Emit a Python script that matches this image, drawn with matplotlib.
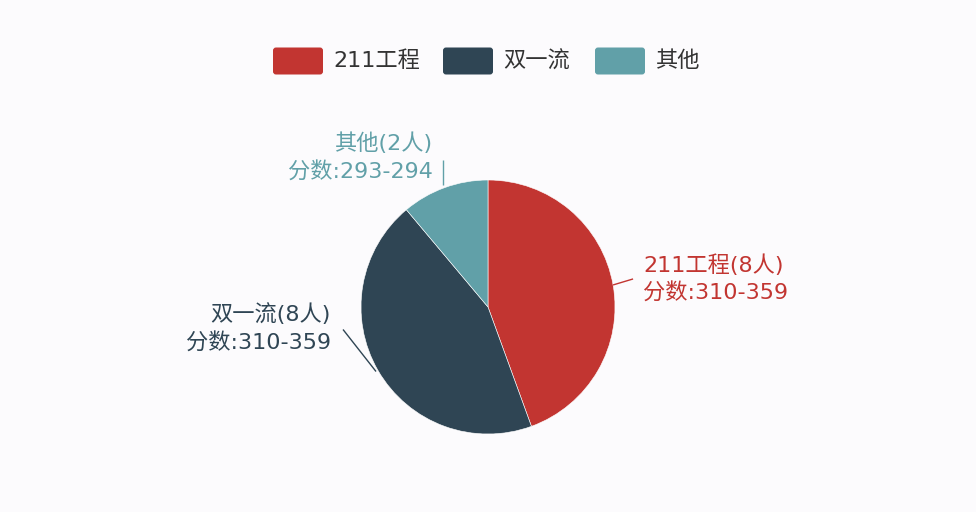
import numpy as np
import matplotlib
matplotlib.use("Agg")
import matplotlib.pyplot as plt
from matplotlib.patches import FancyBboxPatch

plt.rcParams['font.family'] = ['DejaVu Sans', 'Noto Sans CJK SC']

# ---- data ----
categories = ["211工程", "双一流", "其他"]
counts = [8, 8, 2]
score_ranges = ["310-359", "310-359", "293-294"]
colors = ["#c23531", "#2f4554", "#61a0a8"]

W, H = 976, 512
BG = "#fcfbfd"
fig = plt.figure(figsize=(W / 100, H / 100), dpi=100, facecolor=BG)
ax = fig.add_axes([0, 0, 1, 1])
ax.set_facecolor(BG)

cx, cy, R = 488, 205, 127
wedges, _ = ax.pie(counts, colors=colors, startangle=90, counterclock=False,
                   center=(cx, cy), radius=R, frame=True,
                   wedgeprops=dict(edgecolor='white', linewidth=0.4))
ax.set_xlim(0, W)
ax.set_ylim(0, H)
ax.set_aspect('equal')
ax.axis('off')

FS = 16
# label layout: (line start offset, line end offset, text position offset, ha)
layouts = [
    dict(s=(0, 0), e=(20, 6), t=(30, 6), ha='left'),
    dict(s=(-2, -1), e=(-35, 41), t=(-47, 42), ha='right'),
    dict(s=(-2, 3), e=(-2, 28), t=(-12, 30), ha='right'),
]
for w, cat, n, sr, col, lay in zip(wedges, categories, counts, score_ranges, colors, layouts):
    ang = np.deg2rad((w.theta1 + w.theta2) / 2)
    ex, ey = cx + R * np.cos(ang), cy + R * np.sin(ang)
    x0, y0 = ex + lay['s'][0], ey + lay['s'][1]
    x1, y1 = ex + lay['e'][0], ey + lay['e'][1]
    ax.plot([x0, x1], [y0, y1], color=col, lw=1.0, solid_capstyle='butt')
    ax.text(ex + lay['t'][0], ey + lay['t'][1], f"{cat}({n}人)\n分数:{sr}",
            ha=lay['ha'], va='center', fontsize=FS, color=col, linespacing=1.42,
            multialignment=lay['ha'])

# ---- legend ----
legend_x = [273, 443, 595]
ly = H - 61
for x, cat, col in zip(legend_x, categories, colors):
    box = FancyBboxPatch((x + 3, ly - 13.5 + 3), 50 - 6, 27 - 6,
                         boxstyle="round,pad=3", facecolor=col, edgecolor='none')
    ax.add_patch(box)
    ax.text(x + 60, ly, cat, ha='left', va='center', fontsize=FS, color='#333333')

fig.savefig("out.png", dpi=100, facecolor=BG)
